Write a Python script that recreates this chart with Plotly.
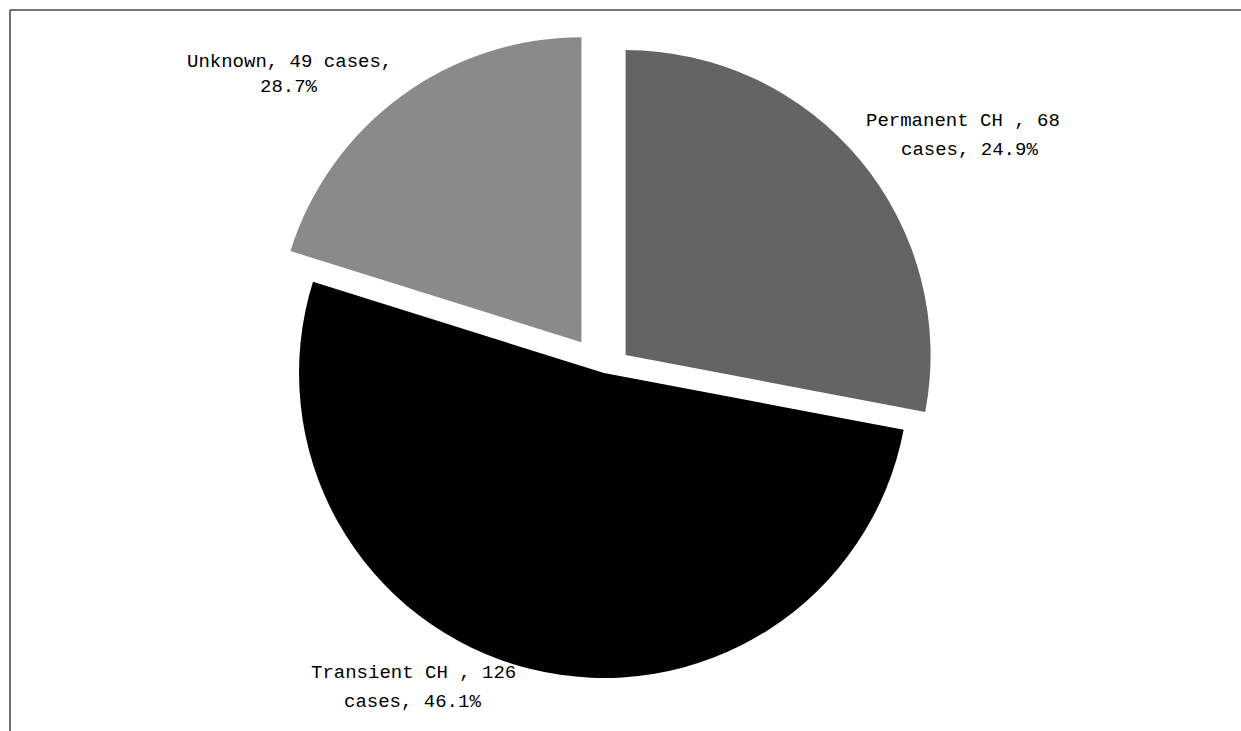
import plotly.graph_objects as go

W, H = 1241, 731

categories = ["Permanent CH", "Transient CH", "Unknown"]
cases = [68, 126, 49]
percent_text = ["24.9%", "46.1%", "28.7%"]
colors = ["#646464", "#000000", "#8a8a8a"]
pulls = [0.092, 0.0, 0.125]

fig = go.Figure(
    go.Pie(
        labels=categories,
        values=cases,
        sort=False,
        direction="clockwise",
        rotation=0,
        pull=pulls,
        marker=dict(colors=colors, line=dict(width=0)),
        textinfo="none",
        hoverinfo="label+value",
        showlegend=False,
        domain=dict(x=[0.2102, 0.7632], y=[0.0204, 0.9591]),
    )
)

# label lines: (text, x_px, y_px, size)
label_lines = [
    (f"Unknown, {cases[2]} cases,", 289, 62, 19),
    (percent_text[2], 289, 87.5, 19),
    (f"Permanent CH , {cases[0]}", 963, 121, 19),
    (f"cases, {percent_text[0]}", 969, 150, 19),
    (f"Transient CH , {cases[1]}", 413, 673, 19),
    (f"cases, {percent_text[1]}", 412, 702, 19),
]

annotations = []
for txt, xp, yp, sz in label_lines:
    annotations.append(
        dict(
            text=txt,
            x=xp / W,
            y=1 - yp / H,
            xref="paper",
            yref="paper",
            xanchor="center",
            yanchor="middle",
            showarrow=False,
            font=dict(family="Liberation Mono", size=sz, color="#000000"),
        )
    )

shapes = [
    dict(type="line", xref="paper", yref="paper", x0=10 / W, x1=1, y0=1 - 10 / H, y1=1 - 10 / H,
         line=dict(color="#444444", width=1.5)),
    dict(type="line", xref="paper", yref="paper", x0=10 / W, x1=10 / W, y0=0, y1=1 - 10 / H,
         line=dict(color="#444444", width=1.5)),
]

fig.update_layout(
    width=W,
    height=H,
    margin=dict(l=0, r=0, t=0, b=0),
    paper_bgcolor="white",
    plot_bgcolor="white",
    annotations=annotations,
    shapes=shapes,
)

fig.write_html("out.html")
